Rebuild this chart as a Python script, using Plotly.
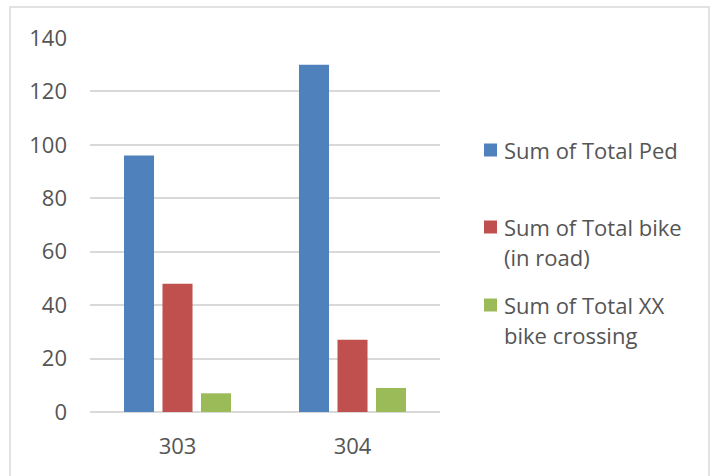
import plotly.graph_objects as go

# Chart data
categories = ["303", "304"]
series_names = ["Sum of Total Ped", "Sum of Total bike (in road)", "Sum of Total XX bike crossing"]
legend_lines = [["Sum of Total Ped"], ["Sum of Total bike", "(in road)"], ["Sum of Total XX", "bike crossing"]]
ped = [96, 130]
bike_road = [48, 27]
xx_bike = [7, 9]
y_ticks = [0, 20, 40, 60, 80, 100, 120, 140]

colors = ["#4F81BD", "#C0504D", "#9BBB59"]
text_color = "#555555"
grid_color = "#D9D9D9"
font_family = "'Open Sans', Lato, sans-serif"

W, H = 715, 476
L, R, T, B = 90, 275, 38, 64
plot_w = W - L - R
plot_h = H - T - B


def px_x(px):
    return (px - L) / plot_w


def px_y(py):
    return (H - B - py) / plot_h


fig = go.Figure()
for name, vals, col in zip(series_names, [ped, bike_road, xx_bike], colors):
    fig.add_trace(go.Bar(x=categories, y=vals, name=name, marker=dict(color=col, line=dict(width=0))))

fig.update_layout(
    width=W, height=H,
    margin=dict(l=L, r=R, t=T, b=B),
    paper_bgcolor="white", plot_bgcolor="white",
    barmode="group", bargap=0.34, bargroupgap=0.22,
    showlegend=False,
    font=dict(family=font_family, color=text_color, size=22),
    xaxis=dict(type="category", showgrid=False, zeroline=False, showline=False,
               ticks="", ticklabelstandoff=19, tickfont=dict(size=22, color=text_color)),
    yaxis=dict(range=[0, 140], tickvals=y_ticks, showgrid=True, gridcolor=grid_color, gridwidth=1.5,
               zeroline=True, zerolinecolor=grid_color, zerolinewidth=1.5, showline=False,
               ticks="", ticklabelstandoff=22, tickfont=dict(size=22, color=text_color)),
)

# Outer chart border
fig.add_shape(type="rect", xref="paper", yref="paper",
              x0=px_x(10), x1=px_x(709), y0=px_y(490), y1=px_y(7),
              line=dict(color=grid_color, width=1.5), fillcolor="rgba(0,0,0,0)", layer="below")

# Legend: swatches and text lines
swatch_centers = [150, 227, 305]
line_gap = 30
for col, lines, cy in zip(colors, legend_lines, swatch_centers):
    fig.add_shape(type="rect", xref="paper", yref="paper",
                  x0=px_x(484), x1=px_x(497), y0=px_y(cy + 6.5), y1=px_y(cy - 6.5),
                  line=dict(width=0), fillcolor=col)
    for i, txt in enumerate(lines):
        fig.add_annotation(xref="paper", yref="paper", x=px_x(502), y=px_y(cy + i * line_gap),
                           text=txt, showarrow=False, xanchor="left", yanchor="middle",
                           font=dict(size=22, color=text_color, family=font_family))

fig.write_html("out.html")
